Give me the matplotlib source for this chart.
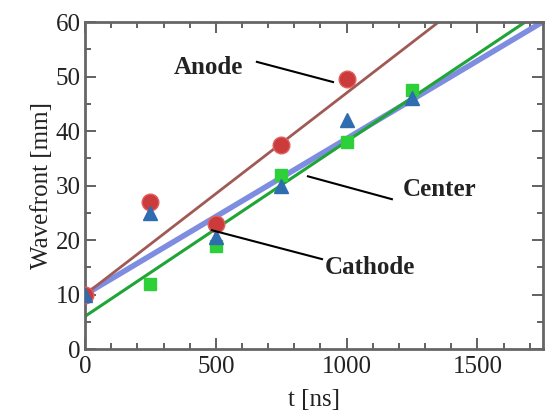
import numpy as np
import matplotlib
matplotlib.use("Agg")
import matplotlib.pyplot as plt
from matplotlib.ticker import MultipleLocator

# measured points
t_anode = [0, 250, 500, 750, 1000]
w_anode = [10, 27, 23, 37.5, 49.5]
t_center = [0, 250, 500, 750, 1000, 1250]
w_center = [10, 25, 20.5, 30, 42, 46]
t_cathode = [250, 500, 750, 1000, 1250]
w_cathode = [12, 19, 32, 38, 47.5]

# linear fits (intercept [mm], slope [mm/ns])
fit_anode = (10.0, 0.0370)
fit_center = (10.0, 0.0286)
fit_cathode = (6.0, 0.0321)

plt.rcParams['font.family'] = ['Liberation Serif', 'DejaVu Serif']

fig = plt.figure(figsize=(5.45, 4.17), dpi=100)
ax = fig.add_axes([0.156, 0.163, 0.840, 0.784])

tt = np.array([0, 1750])
ax.plot(tt, fit_center[0] + fit_center[1] * tt, color='#7f8de0', lw=4, zorder=2)
ax.plot(tt, fit_anode[0] + fit_anode[1] * tt, color='#a05a55', lw=2, zorder=2)
ax.plot(tt, fit_cathode[0] + fit_cathode[1] * tt, color='#1fa535', lw=2.2, zorder=2)

ax.plot(t_anode, w_anode, 'o', color='#cc3b3b', ms=12, mec='#e06060', zorder=3)
ax.plot(t_center, w_center, '^', color='#2f6cb0', ms=10, zorder=4)
ax.plot(t_cathode, w_cathode, 's', color='#2ed03a', ms=8, zorder=3)

ax.set_xlim(0, 1750)
ax.set_ylim(0, 60)
ax.xaxis.set_major_locator(MultipleLocator(500))
ax.xaxis.set_minor_locator(MultipleLocator(100))
ax.yaxis.set_major_locator(MultipleLocator(10))
ax.yaxis.set_minor_locator(MultipleLocator(5))
ax.tick_params(which='both', direction='in', top=True, right=True,
               colors='#555555', labelcolor='#222222', labelsize=18)
ax.tick_params(axis='x', pad=5)
ax.tick_params(axis='y', pad=3)
ax.tick_params(which='major', length=8, width=1.3)
ax.tick_params(which='minor', length=4, width=1.3)
for s in ax.spines.values():
    s.set_color('#666666')
    s.set_linewidth(2)

ax.set_xlabel('t [ns]', fontsize=18, color='#222222', labelpad=8)
ax.set_ylabel('Wavefront [mm]', fontsize=18, color='#222222', labelpad=2)

kw = dict(fontsize=18, fontweight='bold', color='#222222', ha='center', va='center')
ax.text(470, 51.6, 'Anode', **kw)
ax.text(1357, 29.2, 'Center', **kw)
ax.text(1089, 14.9, 'Cathode', **kw)
ax.plot([657, 948], [52.7, 49.0], color='black', lw=1.5, zorder=5)
ax.plot([1173, 852], [27.5, 31.7], color='black', lw=1.5, zorder=5)
ax.plot([906, 485], [16.5, 21.8], color='black', lw=1.5, zorder=5)

fig.savefig('out.png', dpi=100)
